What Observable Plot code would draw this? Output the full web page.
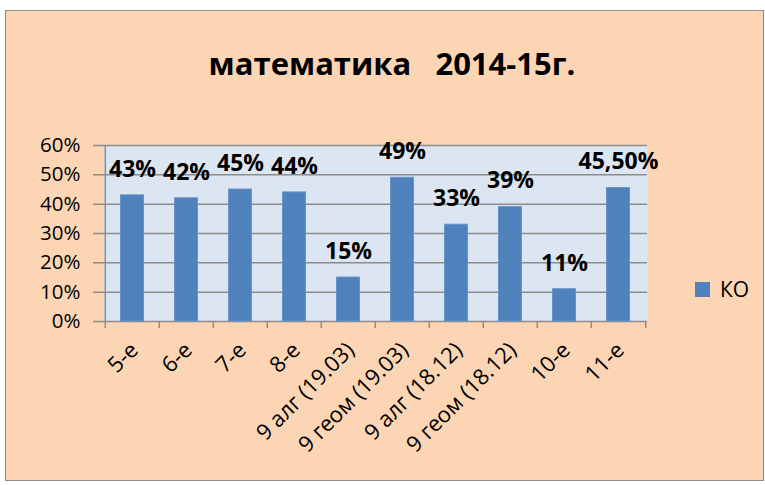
<!DOCTYPE html>
<html>
<head>
<meta charset="utf-8">
<script src="https://cdn.jsdelivr.net/npm/d3@7"></script>
<script src="https://cdn.jsdelivr.net/npm/@observablehq/plot@0.6"></script>
<style>
  html, body { margin: 0; padding: 0; background: #ffffff; }
  body { width: 765px; height: 485px; position: relative; overflow: hidden; font-family: "Open Sans", "Noto Sans", sans-serif; }
  #frame { position: absolute; left: 5px; top: 10px; width: 757px; height: 469px; background: #FCD5B5; border: 1.5px solid #8C8C8C; }
  #title { position: absolute; left: 0; top: 48px; width: 784px; text-align: center; font-weight: bold; font-size: 31px; color: #000; white-space: pre; line-height: 1; }
  #chart { position: absolute; left: 0; top: 0; }
  #legend { position: absolute; left: 695px; top: 275px; display: flex; align-items: center; font-size: 21px; color: #000; }
  #legend .sw { width: 15px; height: 15px; background: #4F81BD; margin-right: 10px; }
</style>
</head>
<body>
<div id="frame"></div>
<div id="title">математика   2014-15г.</div>
<div id="chart"></div>
<div id="legend"><span class="sw"></span><span id="legendName"></span></div>
<script>
const categories = ["5-е", "6-е", "7-е", "8-е", "9 алг (19.03)", "9 геом (19.03)", "9 алг (18.12)", "9 геом (18.12)", "10-е", "11-е"];
const values = [0.43, 0.42, 0.45, 0.44, 0.15, 0.49, 0.33, 0.39, 0.11, 0.455];
const valueLabels = ["43%", "42%", "45%", "44%", "15%", "49%", "33%", "39%", "11%", "45,50%"];
const yTicks = [0, 0.1, 0.2, 0.3, 0.4, 0.5, 0.6];
const seriesName = "КО";

document.getElementById("legendName").textContent = seriesName;

const data = categories.map((c, i) => ({cat: c, value: values[i], label: valueLabels[i]}));

const W = 765, H = 485;
const mL = 103, mR = 118, mT = 145, mB = 164;
const bw = (W - mL - mR) / categories.length;
const grid = "#8C8C8C";

const chart = Plot.plot({
  width: W,
  height: H,
  marginLeft: mL,
  marginRight: mR,
  marginTop: mT,
  marginBottom: mB,
  style: {background: "transparent", fontFamily: "'Open Sans', 'Noto Sans', sans-serif", color: "#000"},
  x: {domain: categories, padding: 0, axis: null},
  y: {domain: [0, 0.6], axis: null},
  marks: [
    Plot.frame({fill: "#DCE6F2", stroke: null}),
    Plot.ruleY(yTicks, {stroke: grid, strokeWidth: 1.5, insetLeft: -10}),
    Plot.ruleX([categories[0]], {x: d => d, dx: -bw / 2, y1: 0, y2: 0.6, stroke: grid, strokeWidth: 1.5}),
    Plot.ruleX(categories, {x: d => d, dx: -bw / 2, y1: 0, y2: 0, insetBottom: -7, stroke: grid, strokeWidth: 1.5}),
    Plot.ruleX([categories[categories.length - 1]], {x: d => d, dx: bw / 2, y1: 0, y2: 0, insetBottom: -7, stroke: grid, strokeWidth: 1.5}),
    Plot.barY(data, {x: "cat", y: "value", fill: "#4F81BD", stroke: "#6A93C6", strokeWidth: 1, insetLeft: 15.5, insetRight: 15.5}),
    Plot.text(data, {x: "cat", y: "value", text: "label", dy: -26, lineAnchor: "middle", fontWeight: "bold", fontSize: 23, fill: "#000"}),
    Plot.text(yTicks, {y: d => d, text: d => Math.round(d * 100) + "%", frameAnchor: "left", textAnchor: "end", dx: -23, lineAnchor: "middle", fontSize: 20.5, fill: "#000"}),
    Plot.text(categories, {x: d => d, text: d => d, frameAnchor: "bottom", rotate: -45, textAnchor: "end", lineAnchor: "middle", dx: 2, dy: 25, fontSize: 22, fill: "#000"})
  ]
});
document.getElementById("chart").appendChild(chart);
</script>
</body>
</html>
